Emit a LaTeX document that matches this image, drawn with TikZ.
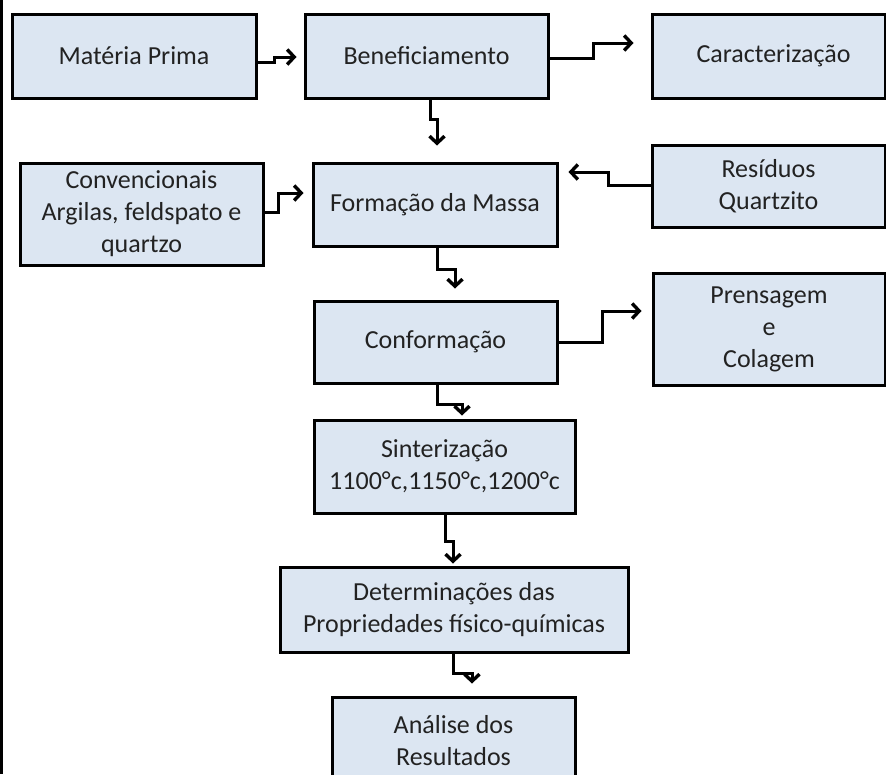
\documentclass[tikz,border=0pt]{standalone}
\usepackage{fontspec}
\setmainfont{Carlito}
\usetikzlibrary{arrows.meta}
\definecolor{boxfill}{HTML}{DCE6F2}
\definecolor{txt}{HTML}{222222}
\tikzset{
  stepbox/.style={draw=black, fill=boxfill, line width=3pt, inner sep=0pt,
    align=center, text=txt, font=\fontsize{26}{32}\selectfont},
  conn/.style={line width=3pt, draw=black, line join=miter,
    -{Straight Barb[length=7pt,width=15pt,line width=3.4pt]}}
}
\begin{document}
\begin{tikzpicture}[x=1pt,y=-1pt]
\useasboundingbox (0,0) rectangle (886,774);
\clip (0,0) rectangle (886,774);
\fill[white] (0,0) rectangle (886,774);
\fill[black] (0,0) rectangle (3,774);

\node[stepbox, minimum width=244pt, minimum height=84pt] (mp)   at (134,56)    {Matéria Prima};
\node[stepbox, minimum width=243pt, minimum height=84pt] (ben)  at (426.5,56)  {Beneficiamento};
\node[stepbox, minimum width=233pt, minimum height=84pt] (car)  at (768.5,56)  {\hspace*{10pt}Caracterização};
\node[stepbox, minimum width=243pt, minimum height=102pt] (conv) at (141.5,214) {Convencionais\\Argilas, feldspato e\\quartzo};
\node[stepbox, minimum width=244pt, minimum height=83pt] (form) at (435,204.5) {Formação da Massa};
\node[stepbox, minimum width=233pt, minimum height=82pt] (res)  at (768.5,186) {Resíduos\\Quartzito};
\node[stepbox, minimum width=243pt, minimum height=82pt] (conf) at (435.5,342) {Conformação};
\node[stepbox, minimum width=232pt, minimum height=112pt] (pren) at (769,329)  {Prensagem\\e\\Colagem};
\node[stepbox, minimum width=261pt, minimum height=93pt] (sint) at (444.5,466.5) {Sinterização\\1100°c,1150°c,1200°c};
\node[stepbox, minimum width=348pt, minimum height=85pt] (det)  at (454,609.5) {Determinações das\\Propriedades físico-químicas};
\node[stepbox, minimum width=243pt, minimum height=88pt] (ana)  at (453.5,741) {Análise dos\\Resultados};

\draw[conn] ([yshift=-6pt]mp.east) -- ++(17pt,0pt) |- ([xshift=-7pt,yshift=-1pt]ben.west);
\draw[conn] ([yshift=-2pt]ben.east) -- ++(44pt,0pt) |- ([xshift=-17pt,yshift=13pt]car.west);
\draw[conn] ([xshift=3.5pt]ben.south) -- ++(0pt,-20pt) -| ([xshift=2pt,yshift=16pt]form.north);
\draw[conn] ([yshift=2pt]conv.east) -- ++(14pt,0pt) |- ([xshift=-8pt,yshift=11.5pt]form.west);
\draw[conn] ([yshift=1pt]res.west) -- ++(-42pt,0pt) |- ([xshift=10pt,yshift=32.5pt]form.east);
\draw[conn] ([xshift=2pt]form.south) -- ++(0pt,-22pt) -| ([xshift=19.5pt,yshift=11pt]conf.north);
\draw[conn] (conf.east) -- ++(44pt,0pt) |- ([xshift=-10pt,yshift=18pt]pren.west);
\draw[conn] ([xshift=1.5pt]conf.south) -- ++(0pt,-20pt) -| ([xshift=17.5pt,yshift=3pt]sint.north);
\draw[conn] ([xshift=0.5pt]sint.south) -- ++(0pt,-27pt) -| ([xshift=-1pt,yshift=2pt]det.north);
\draw[conn] ([xshift=-1pt]det.south) -- ++(0pt,-20pt) -| ([xshift=18.5pt,yshift=12pt]ana.north);
\end{tikzpicture}
\end{document}
